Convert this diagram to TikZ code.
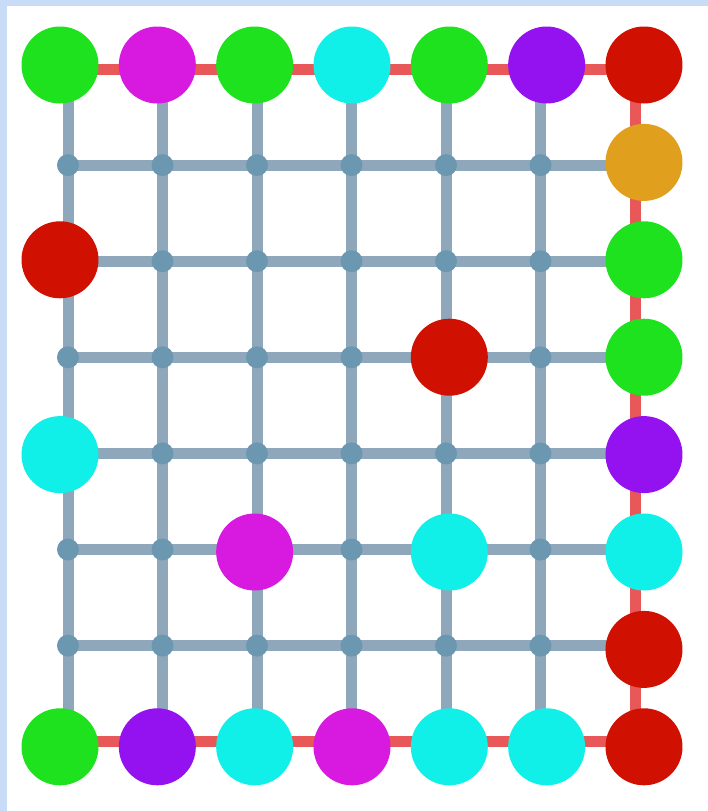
\documentclass[tikz,border=0pt]{standalone}
\definecolor{bgblue}{HTML}{C8DCF8}
\definecolor{edgegray}{HTML}{8FA7BA}
\definecolor{edgered}{HTML}{E85858}
\definecolor{dotblue}{HTML}{6C97B1}
\definecolor{vgreen}{HTML}{1EE21E}
\definecolor{vmagenta}{HTML}{D81AE0}
\definecolor{vcyan}{HTML}{10F0E8}
\definecolor{vpurple}{HTML}{9412F0}
\definecolor{vred}{HTML}{D01000}
\definecolor{vorange}{HTML}{E0A01E}
\tikzset{
  gridline/.style={line width=11pt, color=edgegray},
  borderline/.style={line width=11pt, color=edgered},
  griddot/.style={circle, fill=dotblue, inner sep=0pt, minimum size=22pt},
  vertex/.style={circle, inner sep=0pt, minimum size=77pt},
}
\begin{document}
\begin{tikzpicture}[x=1pt,y=-1pt]
    \useasboundingbox (0,0) rectangle (708,811);
    \fill[bgblue] (0,0) rectangle (708,811);
    \fill[white] (7,6) rectangle (708,811);
    % Grid points
    \foreach \i in {0,...,6}
        \foreach \j in {0,...,7}
            \coordinate (g\i\j) at ({68+94.5*\i},{69+96.1*\j});
    % Gray grid lines
    \foreach \i in {0,...,5}
        \draw[gridline] (g\i0) -- (g\i7);
    \foreach \j in {1,...,6}
        \draw[gridline] (g0\j) -- (g6\j);
    % Red border path
    \draw[borderline] (g00) -- (g60) -- (g67) -- (g07);
    % Small dots
    \foreach \i in {0,...,5}
        \foreach \j in {1,...,6}
            \node[griddot] (d\i\j) at (g\i\j) {};
    % Coloured vertices
    \foreach \i/\j/\c in {0/0/vgreen, 1/0/vmagenta, 2/0/vgreen, 3/0/vcyan, 4/0/vgreen, 5/0/vpurple, 6/0/vred,
                          6/1/vorange, 6/2/vgreen, 6/3/vgreen, 6/4/vpurple, 6/5/vcyan, 6/6/vred,
                          0/7/vgreen, 1/7/vpurple, 2/7/vcyan, 3/7/vmagenta, 4/7/vcyan, 5/7/vcyan, 6/7/vred,
                          0/2/vred, 0/4/vcyan, 4/3/vred, 2/5/vmagenta, 4/5/vcyan}
        \node[vertex, fill=\c] (v\i\j) at ({60+97.33*\i},{65+97.4*\j}) {};
\end{tikzpicture}
\end{document}
